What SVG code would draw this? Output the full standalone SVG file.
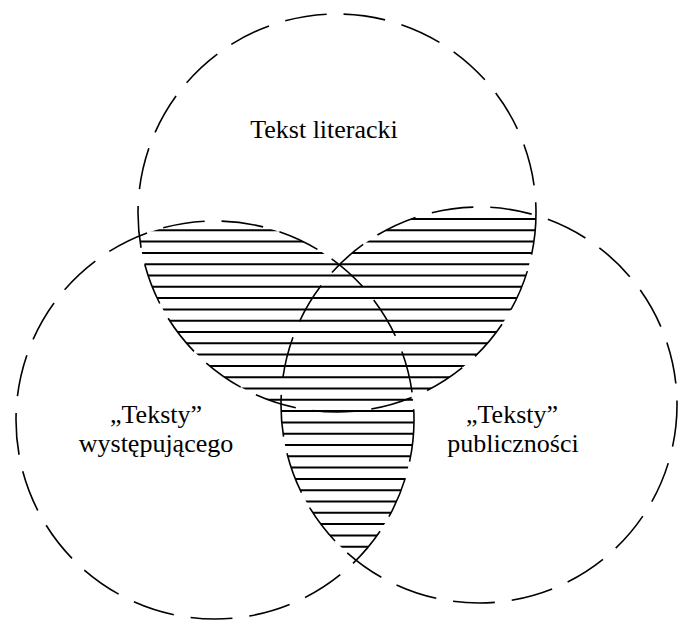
<svg xmlns="http://www.w3.org/2000/svg" width="680" height="621" viewBox="0 0 680 621">
  <style>
    .circ { fill: none; stroke: #000; stroke-width: 1.6; stroke-dasharray: 42 17; }
    .hl { stroke: #000; stroke-width: 2; }
    .lbl { font-family: "Liberation Serif", "Times New Roman", serif; font-size: 26px; fill: #000; text-anchor: middle; }
  </style>
  <defs>
    <clipPath id="petals">
      <path d="M 139.3 236 A 199 199 0 0 1 412.7 397 A 199 199 0 0 1 139.3 236 Z"/>
      <path d="M 281 404 A 198 198 0 0 1 536 215.4 A 199 199 0 0 1 281 404 Z"/>
      <path d="M 339.3 264.6 A 199 199 0 0 1 356.1 560.3 A 198 198 0 0 1 339.3 264.6 Z"/>
    </clipPath>
  </defs>
  <rect width="680" height="621" fill="#fff"/>

  <g id="hatch" clip-path="url(#petals)">
    <line class="hl" x1="120" x2="560" y1="219" y2="219"/>
    <line class="hl" x1="120" x2="560" y1="230.3" y2="230.3"/>
    <line class="hl" x1="120" x2="560" y1="241.6" y2="241.6"/>
    <line class="hl" x1="120" x2="560" y1="252.9" y2="252.9"/>
    <line class="hl" x1="120" x2="560" y1="264.2" y2="264.2"/>
    <line class="hl" x1="120" x2="560" y1="275.5" y2="275.5"/>
    <line class="hl" x1="120" x2="560" y1="286.8" y2="286.8"/>
    <line class="hl" x1="120" x2="560" y1="298.1" y2="298.1"/>
    <line class="hl" x1="120" x2="560" y1="309.4" y2="309.4"/>
    <line class="hl" x1="120" x2="560" y1="320.7" y2="320.7"/>
    <line class="hl" x1="120" x2="560" y1="332" y2="332"/>
    <line class="hl" x1="120" x2="560" y1="343.3" y2="343.3"/>
    <line class="hl" x1="120" x2="560" y1="354.6" y2="354.6"/>
    <line class="hl" x1="120" x2="560" y1="365.9" y2="365.9"/>
    <line class="hl" x1="120" x2="560" y1="377.2" y2="377.2"/>
    <line class="hl" x1="120" x2="560" y1="388.5" y2="388.5"/>
    <line class="hl" x1="120" x2="560" y1="399.8" y2="399.8"/>
    <line class="hl" x1="120" x2="560" y1="411.1" y2="411.1"/>
    <line class="hl" x1="120" x2="560" y1="422.4" y2="422.4"/>
    <line class="hl" x1="120" x2="560" y1="433.7" y2="433.7"/>
    <line class="hl" x1="120" x2="560" y1="445" y2="445"/>
    <line class="hl" x1="120" x2="560" y1="456.3" y2="456.3"/>
    <line class="hl" x1="120" x2="560" y1="467.6" y2="467.6"/>
    <line class="hl" x1="120" x2="560" y1="478.9" y2="478.9"/>
    <line class="hl" x1="120" x2="560" y1="490.2" y2="490.2"/>
    <line class="hl" x1="120" x2="560" y1="501.5" y2="501.5"/>
    <line class="hl" x1="120" x2="560" y1="512.8" y2="512.8"/>
    <line class="hl" x1="120" x2="560" y1="524.1" y2="524.1"/>
    <line class="hl" x1="120" x2="560" y1="535.4" y2="535.4"/>
    <line class="hl" x1="120" x2="560" y1="546.7" y2="546.7"/>
  </g>

  <g id="circle-top"><circle class="circ" cx="337" cy="213" r="199"/></g>
  <g id="circle-left"><circle class="circ" cx="215" cy="420" r="199"/></g>
  <g id="circle-right"><circle class="circ" cx="479" cy="405" r="198"/></g>

  <g id="label-top"><text class="lbl" x="324" y="138">Tekst literacki</text></g>
  <g id="label-left">
    <text class="lbl" x="156" y="423">„Teksty”</text>
    <text class="lbl" x="156" y="452">występującego</text>
  </g>
  <g id="label-right">
    <text class="lbl" x="512" y="423">„Teksty”</text>
    <text class="lbl" x="513" y="452">publiczności</text>
  </g>
</svg>
